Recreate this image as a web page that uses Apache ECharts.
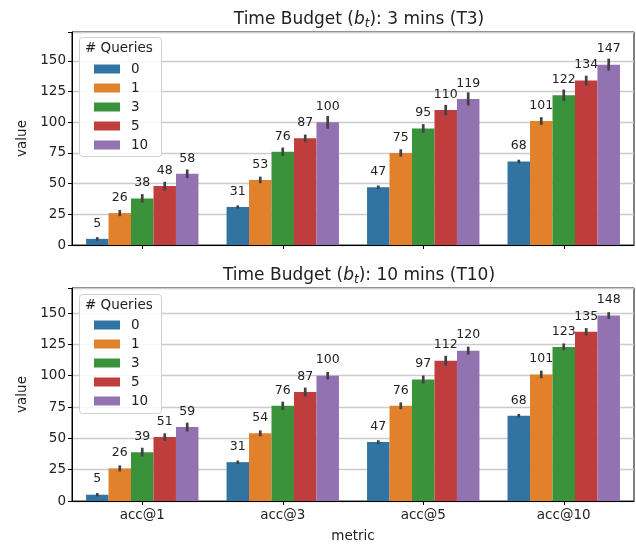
<!DOCTYPE html>
<html>
<head>
<meta charset="utf-8">
<script src="https://cdn.jsdelivr.net/npm/echarts@6/dist/echarts.min.js"></script>
<style>
  html, body { margin: 0; padding: 0; background: #fff; }
  #chart { width: 636px; height: 544px; }
</style>
</head>
<body>
<div id="chart"></div>
<script>
// data
var categories = ['acc@1', 'acc@3', 'acc@5', 'acc@10']
var queries = ['0', '1', '3', '5', '10']
var colors = ['#3274a1', '#e1812c', '#3a923a', '#c03d3e', '#9372b2']

// T3 values / error half-lengths, one row per query count
var t3Values = [
    [5, 31, 47, 68],
    [26, 53, 75, 101],
    [38, 76, 95, 122],
    [48, 87, 110, 134],
    [58, 100, 119, 147]
]
var t3Errors = [
    [1.4, 1.3, 1.5, 1.5],
    [2.5, 2.7, 3.0, 3.2],
    [3.5, 3.4, 3.5, 4.7],
    [3.5, 3.0, 4.2, 4.0],
    [3.5, 5.2, 5.4, 4.9]
]
// T10
var t10Values = [
    [5, 31, 47, 68],
    [26, 54, 76, 101],
    [39, 76, 97, 123],
    [51, 87, 112, 135],
    [59, 100, 120, 148]
]
var t10Errors = [
    [1.3, 1.3, 1.5, 1.5],
    [2.4, 2.3, 2.7, 3.0],
    [3.5, 3.3, 3.2, 2.7],
    [3.0, 3.5, 3.9, 3.0],
    [3.5, 3.0, 3.2, 2.7]
]

var font = 'DejaVu Sans'
var textColor = '#222'

function makeSeries(values, errors, idx) {
    var list = []
    queries.forEach(function(q, i) {
        list.push({
            name: q,
            type: 'bar',
            xAxisIndex: idx,
            yAxisIndex: idx,
            barGap: '0%',
            barCategoryGap: '20%',
            itemStyle: { color: colors[i] },
            label: {
                show: true,
                position: 'top',
                distance: 9,
                fontFamily: font,
                fontSize: 12.5,
                color: textColor
            },
            data: values[i]
        })
    })
    // error bars
    queries.forEach(function(q, i) {
        list.push({
            name: q,
            type: 'custom',
            xAxisIndex: idx,
            yAxisIndex: idx,
            z: 3,
            encode: { x: 0, y: [1, 2] },
            renderItem: function(params, api) {
                var lo = api.coord([api.value(0), api.value(1)])
                var hi = api.coord([api.value(0), api.value(2)])
                var band = api.size([1, 0])[0]
                var dx = (i - 2) * band * 0.8 / 5
                return {
                    type: 'line',
                    shape: { x1: lo[0] + dx, y1: lo[1], x2: hi[0] + dx, y2: hi[1] },
                    style: { stroke: '#424242', lineWidth: 2.7 }
                }
            },
            data: values[i].map(function(v, j) {
                return [j, v - errors[i][j], v + errors[i][j]]
            })
        })
    })
    return list
}

function xAxis(idx, showLabels) {
    return {
        type: 'category',
        gridIndex: idx,
        data: categories,
        axisLine: { lineStyle: { color: '#000', width: 1 } },
        axisTick: { show: true, alignWithLabel: true, length: 4, lineStyle: { color: '#000' } },
        axisLabel: { show: showLabels, fontFamily: font, fontSize: 13.5, color: textColor, margin: 7 },
        name: showLabels ? 'metric' : '',
        nameLocation: 'middle',
        nameGap: 28,
        nameTextStyle: { fontFamily: font, fontSize: 13.5, color: textColor }
    }
}

function yAxis(idx, max) {
    return {
        type: 'value',
        gridIndex: idx,
        min: 0,
        max: max,
        interval: 25,
        axisLine: { show: true, lineStyle: { color: '#000', width: 1 } },
        axisTick: { show: true, length: 4, lineStyle: { color: '#000' } },
        axisLabel: {
            fontFamily: font, fontSize: 13.5, color: textColor, margin: 6,
            formatter: function(v) { return v % 25 === 0 ? v : '' }
        },
        splitLine: { show: true, lineStyle: { color: '#cbcbcb', width: 1.3 } },
        name: 'value',
        nameLocation: 'middle',
        nameGap: 43,
        nameTextStyle: { fontFamily: font, fontSize: 13.5, color: textColor }
    }
}

function legend(top) {
    return {
        data: queries,
        orient: 'vertical',
        left: 94,
        top: top,
        padding: 0,
        z: 20,
        itemWidth: 26,
        itemHeight: 9,
        itemGap: 5,
        icon: 'rect',
        selectedMode: false,
        textStyle: { fontFamily: font, fontSize: 13.5, color: textColor, padding: [0, 0, 0, 6] }
    }
}

function titleRich(text2, top) {
    return {
        text: '{n|Time Budget (}{i|b}{s|t}{n|): ' + text2 + '}',
        left: 354,
        top: top,
        textAlign: 'center',
        textStyle: {
            rich: {
                n: { fontFamily: font, fontSize: 17, fontWeight: 'normal', color: textColor },
                i: { fontFamily: font, fontSize: 17, fontWeight: 'normal', fontStyle: 'italic', color: textColor },
                s: { fontFamily: font, fontSize: 12, fontWeight: 'normal', fontStyle: 'italic', color: textColor, verticalAlign: 'bottom', padding: [8, 0, 0, 0] }
            }
        }
    }
}

function legendBox(top) {
    return [
        {
            type: 'rect',
            left: 79,
            top: top,
            shape: { width: 82, height: 119, r: 3 },
            style: { fill: 'rgba(255,255,255,0.85)', stroke: '#d0d0d0', lineWidth: 1 },
            z: 10
        },
        {
            type: 'text',
            left: 85,
            top: top + 4,
            style: { text: '# Queries', fontFamily: font, fontSize: 13.5, fill: textColor },
            z: 11
        }
    ]
}

var myChart = echarts.init(document.getElementById('chart'))
var option = {
    backgroundColor: '#fff',
    animation: false,
    title: [
        titleRich('3 mins (T3)', 5),
        titleRich('10 mins (T10)', 260.5)
    ],
    grid: [
        { left: 72, top: 32, right: 2, height: 213, show: true, borderColor: '#000', borderWidth: 1, backgroundColor: 'transparent' },
        { left: 72, top: 288, right: 2, height: 213, show: true, borderColor: '#000', borderWidth: 1, backgroundColor: 'transparent' }
    ],
    legend: [legend(62), legend(318)],
    graphic: legendBox(37).concat(legendBox(294)),
    xAxis: [xAxis(0, false), xAxis(1, true)],
    yAxis: [yAxis(0, 173.6), yAxis(1, 170)],
    series: makeSeries(t3Values, t3Errors, 0).concat(makeSeries(t10Values, t10Errors, 1))
}
myChart.setOption(option)
</script>
</body>
</html>
